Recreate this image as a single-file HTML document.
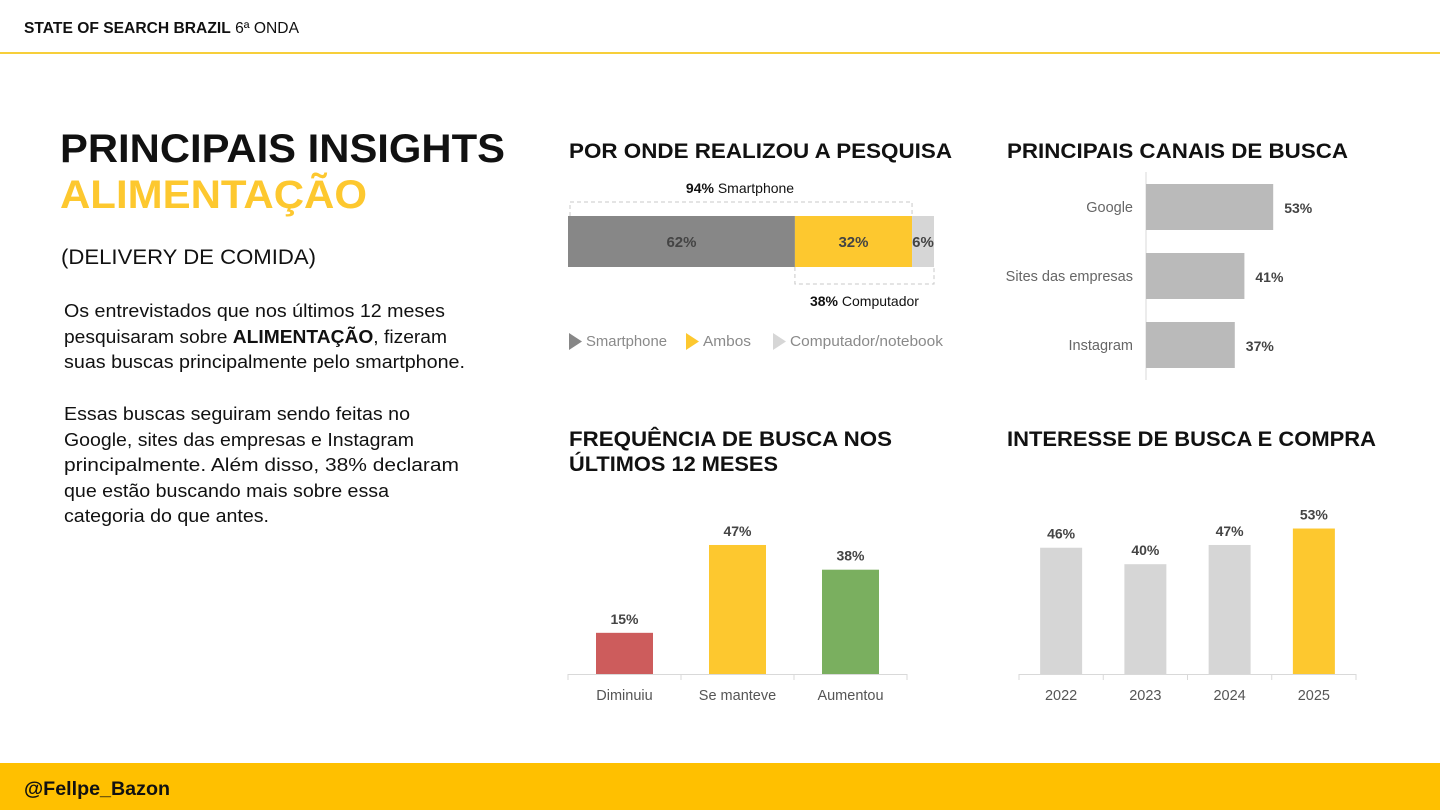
<!DOCTYPE html>
<html><head><meta charset="utf-8"><style>
html,body{margin:0;padding:0;background:#fff;width:1440px;height:810px;overflow:hidden}
svg{display:block;font-family:"Liberation Sans",sans-serif}
</style></head><body>
<svg id="s" width="1440" height="810" viewBox="0 0 1440 810">
<g>
<text x="24" y="33" font-size="15.5" fill="#111" textLength="275" lengthAdjust="spacingAndGlyphs"><tspan font-weight="bold">STATE OF SEARCH BRAZIL</tspan> 6ª ONDA</text>
<rect x="0" y="52" width="1440" height="2" fill="#f7cf3a"/>
</g>
<rect x="0" y="763" width="1440" height="47" fill="#ffc000"/>
<text x="24" y="795" font-size="19" font-weight="bold" fill="#111" textLength="146" lengthAdjust="spacingAndGlyphs">@Fellpe_Bazon</text>

<text x="60" y="162" font-size="40" font-weight="bold" fill="#111" textLength="445" lengthAdjust="spacingAndGlyphs">PRINCIPAIS INSIGHTS</text>
<text x="60" y="208" font-size="40" font-weight="bold" fill="#fdc82f" textLength="307" lengthAdjust="spacingAndGlyphs">ALIMENTAÇÃO</text>
<text x="61" y="264" font-size="21" fill="#111" textLength="255" lengthAdjust="spacingAndGlyphs">(DELIVERY DE COMIDA)</text>
<g font-size="18" fill="#111">
<text x="64" y="317" textLength="381" lengthAdjust="spacingAndGlyphs">Os entrevistados que nos últimos 12 meses</text>
<text x="64" y="343" textLength="383" lengthAdjust="spacingAndGlyphs">pesquisaram sobre <tspan font-weight="bold">ALIMENTAÇÃO</tspan>, fizeram</text>
<text x="64" y="368" textLength="401" lengthAdjust="spacingAndGlyphs">suas buscas principalmente pelo smartphone.</text>
<text x="64" y="420" textLength="346" lengthAdjust="spacingAndGlyphs">Essas buscas seguiram sendo feitas no</text>
<text x="64" y="446" textLength="350" lengthAdjust="spacingAndGlyphs">Google, sites das empresas e Instagram</text>
<text x="64" y="471" textLength="395" lengthAdjust="spacingAndGlyphs">principalmente. Além disso, 38% declaram</text>
<text x="64" y="497" textLength="325" lengthAdjust="spacingAndGlyphs">que estão buscando mais sobre essa</text>
<text x="64" y="522" textLength="205" lengthAdjust="spacingAndGlyphs">categoria do que antes.</text>
</g>

<g font-weight="bold" font-size="21" fill="#111">
<text x="569" y="158" textLength="383" lengthAdjust="spacingAndGlyphs">POR ONDE REALIZOU A PESQUISA</text>
<text x="1007" y="158" textLength="341" lengthAdjust="spacingAndGlyphs">PRINCIPAIS CANAIS DE BUSCA</text>
<text x="569" y="446" textLength="323" lengthAdjust="spacingAndGlyphs">FREQUÊNCIA DE BUSCA NOS</text>
<text x="569" y="471" textLength="209" lengthAdjust="spacingAndGlyphs">ÚLTIMOS 12 MESES</text>
<text x="1007" y="446" textLength="369" lengthAdjust="spacingAndGlyphs">INTERESSE DE BUSCA E COMPRA</text>
</g>

<g id="dev"></g>
<g id="chan"></g>
<g id="freq"></g>
<g id="intr"></g>
</svg>
<script>
const devCats=["Smartphone","Ambos","Computador/notebook"];
const devVals=[62,32,6];
const chanCats=["Google","Sites das empresas","Instagram"];
const chanVals=[53,41,37];
const freqCats=["Diminuiu","Se manteve","Aumentou"];
const freqVals=[15,47,38];
const intCats=["2022","2023","2024","2025"];
const intVals=[46,40,47,53];

const NS="http://www.w3.org/2000/svg";
function mk(p,t,a,txt){const e=document.createElementNS(NS,t);for(const k in a)e.setAttribute(k,a[k]);if(txt!==undefined)e.textContent=txt;p.appendChild(e);return e;}

(function(){
const g=document.getElementById('dev');
const x0=568,w=366,y=216,h=51;
const sx=v=>v/100*w;
const cols=["#878787","#fdc82f","#d6d6d6"];
let cx=x0;
devVals.forEach((v,i)=>{
 const r=mk(g,'rect',{x:cx,y:y,width:sx(v),height:h,fill:cols[i]});
 
 
 const t=mk(g,'text',{x:cx+sx(v)/2,y:y+31,'text-anchor':'middle','font-size':15,'font-weight':'bold',fill:'#444'},v+'%');
 
 
 cx+=sx(v);
});
const smEnd=x0+sx(devVals[0]+devVals[1]);
const cpStart=x0+sx(devVals[0]);
const b1=mk(g,'path',{d:`M${x0+2} ${y}V${y-14}H${smEnd}V${y}`,fill:'none',stroke:'#c8c8c8','stroke-dasharray':'4 3'});


const b2=mk(g,'path',{d:`M${cpStart} ${y+h}V${y+h+17}H${x0+w}V${y+h}`,fill:'none',stroke:'#c8c8c8','stroke-dasharray':'4 3'});


const t1=mk(g,'text',{x:(x0+smEnd)/2,y:193,'text-anchor':'middle','font-size':14,fill:'#111'});


mk(t1,'tspan',{'font-weight':'bold'},(devVals[0]+devVals[1])+'%');mk(t1,'tspan',{},' Smartphone');
const t2=mk(g,'text',{x:(cpStart+x0+w)/2,y:306,'text-anchor':'middle','font-size':14,fill:'#111'});


mk(t2,'tspan',{'font-weight':'bold'},(devVals[1]+devVals[2])+'%');mk(t2,'tspan',{},' Computador');
const lx=[569,686,773];
const lw=[81,48,153];
devCats.forEach((c,i)=>{
 const lg=mk(g,'g',{});
 
 
 mk(lg,'path',{d:`M${lx[i]} ${333}L${lx[i]+13} ${341.5}L${lx[i]} ${350}Z`,fill:cols[i]});
 mk(lg,'text',{x:lx[i]+17,y:346,'font-size':14.5,fill:'#8a8a8a',textLength:lw[i],lengthAdjust:'spacingAndGlyphs'},c);
});
})();

(function(){
const g=document.getElementById('chan');
const x0=1146,k=2.4;const ys=[184,253,322],bh=46;
const ax=mk(g,'line',{x1:x0,y1:172,x2:x0,y2:380,stroke:'#d9d9d9','stroke-width':1});


chanCats.forEach((c,i)=>{
 const w=chanVals[i]*k;
 const r=mk(g,'rect',{x:x0,y:ys[i],width:w,height:bh,fill:'#bababa'});
 
 
 const l=mk(g,'text',{x:1133,y:ys[i]+28,'text-anchor':'end','font-size':14.5,fill:'#666'},c);
 
 
 const v=mk(g,'text',{x:x0+w+11,y:ys[i]+29,'font-size':14,'font-weight':'bold',fill:'#444'},chanVals[i]+'%');
 
 
});
})();

function vbars(id,cats,vals,x0,x1,bw,cols,prefix){
 const g=document.getElementById(id);
 const base=674,k=2.745;const step=(x1-x0)/cats.length;
 const ax=mk(g,'line',{x1:x0,y1:base+0.5,x2:x1,y2:base+0.5,stroke:'#d9d9d9'});
 
 
 for(let i=0;i<=cats.length;i++){mk(g,'line',{x1:x0+i*step,y1:base,x2:x0+i*step,y2:base+6,stroke:'#d9d9d9'});}
 cats.forEach((c,i)=>{
  const cx=x0+step*(i+0.5),h=vals[i]*k;
  const r=mk(g,'rect',{x:cx-bw/2,y:base-h,width:bw,height:h,fill:cols[i]});
  
  
  const v=mk(g,'text',{x:cx,y:base-h-9,'text-anchor':'middle','font-size':14,'font-weight':'bold',fill:'#444'},vals[i]+'%');
  
  
  const l=mk(g,'text',{x:cx,y:700,'text-anchor':'middle','font-size':14.5,fill:'#555'},c);
  
  
 });
}
vbars('freq',freqCats,freqVals,568,907,57,["#cd5c5c","#fdc82f","#7aaf5f"],'frequency');
vbars('intr',intCats,intVals,1019,1356,42,["#d6d6d6","#d6d6d6","#d6d6d6","#fdc82f"],'interest');
</script>
</body></html>
